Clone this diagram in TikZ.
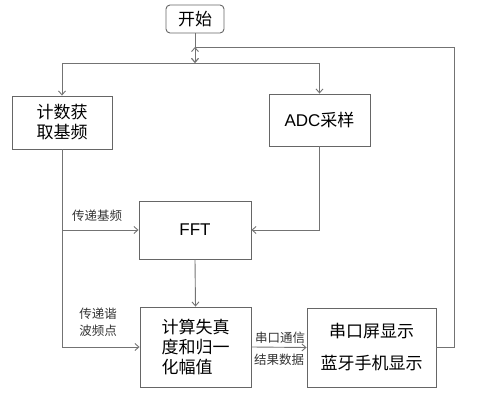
\documentclass[tikz,border=0pt]{standalone}
\usepackage{fontspec}
\setmainfont{Noto Sans CJK SC}
\newfontfamily\latinfont{Liberation Sans}
\usetikzlibrary{arrows.meta}
\begin{document}
\begin{tikzpicture}[x=1pt,y=-1pt,
  line/.style={draw=black!55, line width=0.9pt},
  arr/.style={line, -{Straight Barb[length=4pt,width=7pt]}},
  box/.style={draw=black!60, line width=0.9pt, fill=white, inner sep=0pt, font=\fontsize{17}{20}\selectfont},
  lbl/.style={font=\fontsize{12.5}{17}\selectfont, inner sep=0pt, text=black!80}]
\useasboundingbox (0,0) rectangle (479,403);
\node[box, rounded corners=4pt, minimum width=58pt, minimum height=28pt] (start) at (195,19) {开始};
\node[box, minimum width=100pt, minimum height=53pt, align=center] (cnt) at (62,122.5) {计数获\\取基频};
\node[box, minimum width=101pt, minimum height=52pt] (adc) at (319.5,120) {{\latinfont ADC}采样};
\node[box, minimum width=112pt, minimum height=58pt] (fft) at (195,230) {\latinfont FFT};
\node[box, minimum width=111pt, minimum height=80pt, align=left] (calc) at (195.5,347) {计算失真\\度和归一\\化幅值};
\node[box, minimum width=129pt, minimum height=79pt, align=center, font=\fontsize{17}{32}\selectfont] (disp) at (371.5,347.5) {串口屏显示\\蓝牙手机显示};
\coordinate (junc) at (195,63);
\coordinate (fb) at (195,47);
\coordinate (fbc) at (454,47);
\coordinate (b1) at (62,230);
\coordinate (b2) at (62,347);
\draw[arr] (start.south) -- (junc);
\draw[line] (cnt.north |- junc) -- (adc.north |- junc);
\draw[arr] (junc) -| (cnt.north);
\draw[arr] (junc) -| (adc.north);
\draw[line] (cnt.south) -- (b2);
\draw[arr] (b1) -- (fft.west);
\draw[arr] (b2) -- (calc.west);
\draw[arr] (adc.south) |- (fft.east);
\draw[arr] (fft.south) -- (calc.north);
\draw[arr] (calc.east) -- (disp.west);
\draw[line] (disp.east) -| (fbc) -- (fb);
\draw[line, {Straight Barb[length=4pt,width=7pt]}-{Straight Barb[length=4pt,width=7pt]}] (fb) -- (junc);
\node[lbl] (l1) at (97,216) {传递基频};
\node[lbl, align=center] (l2) at (98,322.5) {传递谐\\波频点};
\node[lbl] (l3) at (280,338) {串口通信};
\node[lbl] (l4) at (279,360) {结果数据};
\end{tikzpicture}
\end{document}
